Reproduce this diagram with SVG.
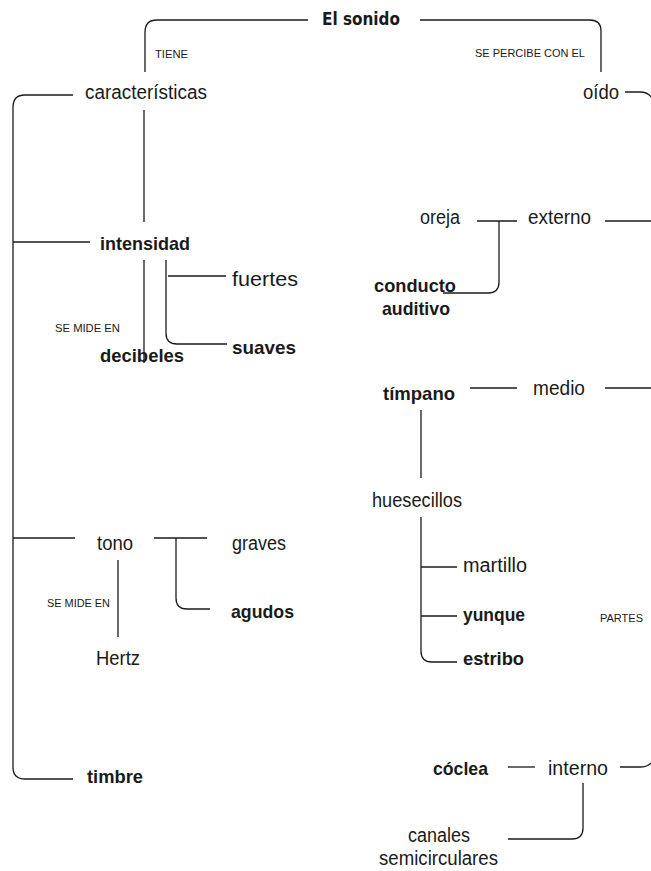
<svg xmlns="http://www.w3.org/2000/svg" width="651" height="871" viewBox="0 0 651 871">
<style>
.c{fill:none;stroke:#1a1a1a;stroke-width:1.3}
text{font-family:"Liberation Sans",Arial,sans-serif;fill:#1a1a1a}
.n{font-size:20px}
.b{font-size:19px;font-weight:bold}
.s{font-size:11.5px}
.t{font-family:"Comic Sans MS","DejaVu Sans",sans-serif;font-size:17px;font-weight:bold}
</style>
<rect width="651" height="871" fill="#fff"/>
<g id="connectors">
<path class="c" d="M145 72V32Q145 20 157 20H308"/>
<path class="c" d="M420 20H590Q601 20 601 31V72"/>
<path class="c" d="M73 95H25Q13 95 13 107V767Q13 779 25 779H73"/>
<path class="c" d="M13 242H90"/>
<path class="c" d="M13 538H75"/>
<path class="c" d="M144 110V222"/>
<path class="c" d="M144 260V363"/>
<path class="c" d="M166 260V333Q166 344 177 344H227"/>
<path class="c" d="M168 276H226"/>
<path class="c" d="M154 538H207"/>
<path class="c" d="M176 538V598Q176 609 187 609H210"/>
<path class="c" d="M118 560V637"/>
<path class="c" d="M625 92H640Q648 92 652 98"/>
<path class="c" d="M605 221H651"/>
<path class="c" d="M477 221H517"/>
<path class="c" d="M499 221V282Q499 293 488 293H443"/>
<path class="c" d="M470 388H517"/>
<path class="c" d="M605 388H651"/>
<path class="c" d="M421 410V478"/>
<path class="c" d="M421 517V651Q421 662 432 662H457"/>
<path class="c" d="M421 567H457"/>
<path class="c" d="M421 616H457"/>
<path class="c" d="M508 767H535"/>
<path class="c" d="M620 767H640Q648 767 652 762"/>
<path class="c" d="M583 783V828Q583 839 572 839H508"/>
</g>
<g id="labels">
<text class="s" x="155" y="58" textLength="33" lengthAdjust="spacingAndGlyphs">TIENE</text>
<text class="s" x="475" y="57" textLength="110" lengthAdjust="spacingAndGlyphs">SE PERCIBE CON EL</text>
<text class="s" x="55" y="332" textLength="65" lengthAdjust="spacingAndGlyphs">SE MIDE EN</text>
<text class="s" x="47" y="607" textLength="63" lengthAdjust="spacingAndGlyphs">SE MIDE EN</text>
<text class="s" x="600" y="622" textLength="43" lengthAdjust="spacingAndGlyphs">PARTES</text>
</g>
<g id="n-sonido"><text class="t" x="322" y="25" textLength="78" lengthAdjust="spacingAndGlyphs">El sonido</text></g>
<g id="n-caracteristicas"><text class="n" x="85" y="99" textLength="122" lengthAdjust="spacingAndGlyphs">características</text></g>
<g id="n-intensidad"><text class="b" x="100" y="250" textLength="90" lengthAdjust="spacingAndGlyphs">intensidad</text></g>
<g id="n-fuertes"><text class="n" x="232" y="286" textLength="66" lengthAdjust="spacingAndGlyphs">fuertes</text></g>
<g id="n-suaves"><text class="b" x="232" y="354" textLength="64" lengthAdjust="spacingAndGlyphs">suaves</text></g>
<g id="n-decibeles"><text class="b" x="100" y="362" textLength="84" lengthAdjust="spacingAndGlyphs">decibeles</text></g>
<g id="n-tono"><text class="n" x="97" y="550" textLength="36" lengthAdjust="spacingAndGlyphs">tono</text></g>
<g id="n-graves"><text class="n" x="232" y="550" textLength="54" lengthAdjust="spacingAndGlyphs">graves</text></g>
<g id="n-agudos"><text class="b" x="231" y="618" textLength="63" lengthAdjust="spacingAndGlyphs">agudos</text></g>
<g id="n-hertz"><text class="n" x="96" y="665" textLength="44" lengthAdjust="spacingAndGlyphs">Hertz</text></g>
<g id="n-timbre"><text class="b" x="87" y="783" textLength="56" lengthAdjust="spacingAndGlyphs">timbre</text></g>
<g id="n-oido"><text class="n" x="583" y="99" textLength="36" lengthAdjust="spacingAndGlyphs">oído</text></g>
<g id="n-oreja"><text class="n" x="420" y="224" textLength="40" lengthAdjust="spacingAndGlyphs">oreja</text></g>
<g id="n-externo"><text class="n" x="528" y="224" textLength="63" lengthAdjust="spacingAndGlyphs">externo</text></g>
<g id="n-conducto"><text class="b" x="374" y="292" textLength="82" lengthAdjust="spacingAndGlyphs">conducto</text><text class="b" x="382" y="315" textLength="68" lengthAdjust="spacingAndGlyphs">auditivo</text></g>
<g id="n-timpano"><text class="b" x="383" y="400" textLength="72" lengthAdjust="spacingAndGlyphs">tímpano</text></g>
<g id="n-medio"><text class="n" x="533" y="395" textLength="52" lengthAdjust="spacingAndGlyphs">medio</text></g>
<g id="n-huesecillos"><text class="n" x="372" y="507" textLength="90" lengthAdjust="spacingAndGlyphs">huesecillos</text></g>
<g id="n-martillo"><text class="n" x="463" y="572" textLength="64" lengthAdjust="spacingAndGlyphs">martillo</text></g>
<g id="n-yunque"><text class="b" x="463" y="621" textLength="62" lengthAdjust="spacingAndGlyphs">yunque</text></g>
<g id="n-estribo"><text class="b" x="463" y="665" textLength="61" lengthAdjust="spacingAndGlyphs">estribo</text></g>
<g id="n-coclea"><text class="b" x="433" y="775" textLength="55" lengthAdjust="spacingAndGlyphs">cóclea</text></g>
<g id="n-interno"><text class="n" x="548" y="775" textLength="60" lengthAdjust="spacingAndGlyphs">interno</text></g>
<g id="n-canales"><text class="n" x="408" y="842" textLength="62" lengthAdjust="spacingAndGlyphs">canales</text><text class="n" x="379" y="865" textLength="119" lengthAdjust="spacingAndGlyphs">semicirculares</text></g>
</svg>
